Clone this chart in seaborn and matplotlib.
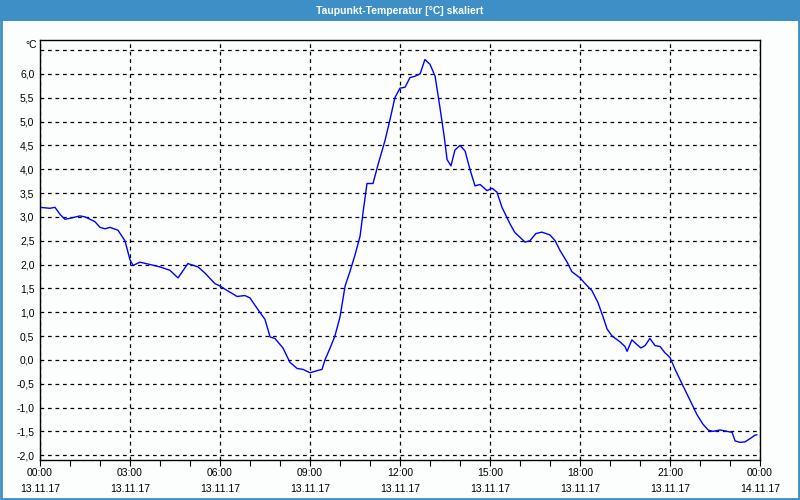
import matplotlib
matplotlib.use("Agg")
import matplotlib.pyplot as plt
import matplotlib.dates as mdates
from matplotlib.patches import Rectangle
from matplotlib.ticker import FixedLocator, FuncFormatter
import numpy as np
import pandas as pd
import seaborn as sns

# ---- data (hours since 13.11.17 00:00, dew point in °C) ----
hours = [0.00, 0.33, 0.50, 0.67, 0.83, 1.00, 1.33, 1.50, 1.83, 2.00, 2.17, 2.33,
         2.60, 2.83, 3.00, 3.10, 3.33, 3.67, 4.00, 4.33, 4.60, 4.93, 5.27, 5.50,
         5.83, 6.00, 6.33, 6.57, 6.83, 7.00, 7.27, 7.50, 7.67, 7.83, 8.10, 8.33,
         8.57, 8.77, 9.00, 9.27, 9.40, 9.50, 9.67, 9.83, 10.00, 10.17, 10.33,
         10.50, 10.67, 10.77, 10.90, 11.10, 11.27, 11.50, 11.67, 11.83, 12.00,
         12.17, 12.33, 12.50, 12.67, 12.83, 13.00, 13.17, 13.33, 13.47, 13.57,
         13.70, 13.83, 14.00, 14.17, 14.33, 14.50, 14.67, 14.90, 15.07, 15.23,
         15.40, 15.67, 15.83, 16.17, 16.33, 16.53, 16.73, 17.00, 17.17, 17.33,
         17.57, 17.73, 18.00, 18.17, 18.40, 18.60, 18.77, 18.90, 19.07, 19.33,
         19.50, 19.57, 19.73, 19.90, 20.03, 20.17, 20.33, 20.50, 20.67, 20.83,
         21.00, 21.17, 21.40, 21.67, 21.90, 22.10, 22.27, 22.43, 22.67, 22.90,
         23.07, 23.17, 23.33, 23.50, 23.67, 23.83, 23.90]
dewpoint = [3.20, 3.18, 3.20, 3.05, 2.95, 2.97, 3.02, 3.00, 2.90, 2.78, 2.75,
            2.78, 2.72, 2.50, 2.10, 1.98, 2.05, 2.00, 1.95, 1.88, 1.72, 2.02,
            1.95, 1.82, 1.60, 1.55, 1.42, 1.33, 1.35, 1.30, 1.05, 0.85, 0.48,
            0.45, 0.25, -0.05, -0.18, -0.20, -0.27, -0.22, -0.20, 0.00, 0.25,
            0.50, 0.90, 1.55, 1.85, 2.20, 2.60, 3.10, 3.70, 3.70, 4.10, 4.60,
            5.05, 5.50, 5.70, 5.72, 5.92, 5.95, 6.00, 6.30, 6.20, 5.95, 5.30,
            4.70, 4.20, 4.07, 4.40, 4.50, 4.38, 4.00, 3.65, 3.68, 3.55, 3.60,
            3.52, 3.20, 2.85, 2.67, 2.47, 2.50, 2.65, 2.68, 2.62, 2.50, 2.30,
            2.05, 1.85, 1.72, 1.60, 1.45, 1.20, 0.90, 0.65, 0.50, 0.38, 0.28,
            0.18, 0.42, 0.32, 0.25, 0.30, 0.45, 0.30, 0.28, 0.15, 0.05, -0.20,
            -0.50, -0.85, -1.15, -1.35, -1.47, -1.50, -1.47, -1.50, -1.52,
            -1.70, -1.73, -1.72, -1.65, -1.58, -1.57]
title = "Taupunkt-Temperatur [°C] skaliert"
unit_label = "°C"
y_ticks = [-2.0, -1.5, -1.0, -0.5, 0.0, 0.5, 1.0, 1.5, 2.0, 2.5, 3.0, 3.5,
           4.0, 4.5, 5.0, 5.5, 6.0, 6.5]

start = pd.Timestamp("2017-11-13 00:00")
df = pd.DataFrame({
    "time": start + pd.to_timedelta(hours, unit="h"),
    "value": dewpoint,
})

sns.set_style("white")
plt.rcParams["font.family"] = ["Liberation Sans", "DejaVu Sans"]

fig = plt.figure(figsize=(8, 5), dpi=100, facecolor="#fcfefd")
ax = fig.add_axes([40 / 800, 1 - 460 / 500, 720 / 800, 420 / 500])
ax.set_facecolor("#fcfefd")

sns.lineplot(data=df, x="time", y="value", ax=ax, color="#0000ff",
             linewidth=1.0, estimator=None)

ax.set_xlim(start, start + pd.Timedelta(hours=24))
ax.set_ylim(-2.1, 6.71)

ax.xaxis.set_major_locator(mdates.HourLocator(byhour=range(0, 24, 3)))
ax.xaxis.set_minor_locator(mdates.HourLocator())
ax.xaxis.set_major_formatter(mdates.DateFormatter("%H:%M\n%d.%m.%y"))
ax.yaxis.set_major_locator(FixedLocator(y_ticks))
ax.yaxis.set_major_formatter(FuncFormatter(
    lambda v, p: "" if v > 6.2 else f"{v:.1f}".replace(".", ",")))

ax.grid(True, which="major", color="black", linestyle=(0, (3, 3)),
        linewidth=0.9)
ax.tick_params(axis="y", length=0, pad=4, labelsize=7.5, colors="black")
ax.tick_params(axis="x", which="both", bottom=True, length=4, width=0.8,
               direction="out", pad=1.5, labelsize=7.5, colors="black")
for lab in ax.get_xticklabels():
    lab.set_linespacing(1.75)
for s in ax.spines.values():
    s.set_color("black")
    s.set_linewidth(1.0)
ax.set_xlabel("")
ax.set_ylabel("")

fig.text(37 / 800, 1 - 45 / 500, unit_label, ha="right", va="center",
         fontsize=7.5, color="black")

# title bar and frame
fig.patches.append(Rectangle((0, 1 - 21 / 500), 1, 21 / 500,
                             transform=fig.transFigure, facecolor="#3d8fc6",
                             edgecolor="none", zorder=0))
fig.patches.append(Rectangle((0.001, 0.002), 0.998, 0.996,
                             transform=fig.transFigure, facecolor="none",
                             edgecolor="#3d8fc6", linewidth=2, zorder=1))
fig.text(0.5, 1 - 10.5 / 500, title, ha="center", va="center",
         fontsize=7.5, fontweight="bold", color="white")

fig.savefig("out.png", dpi=100, facecolor=fig.get_facecolor())
